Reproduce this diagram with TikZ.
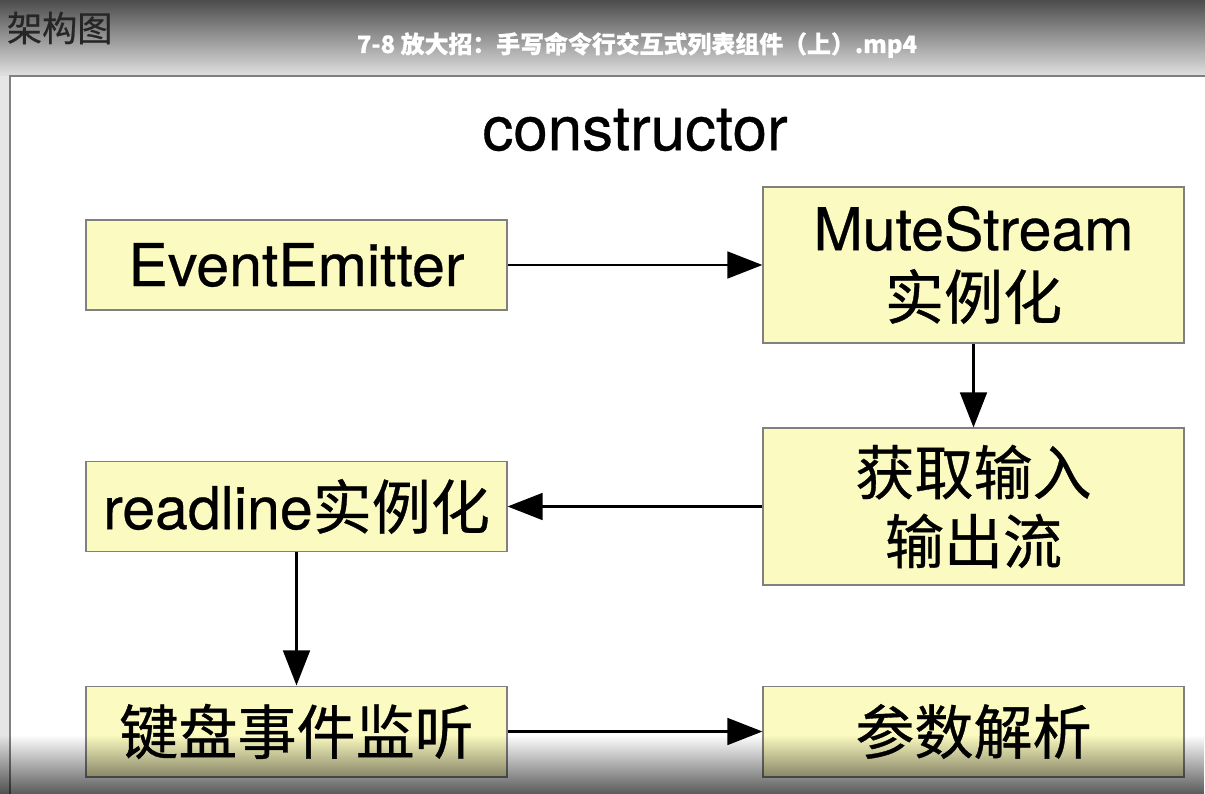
\documentclass[tikz,border=0pt]{standalone}
\usepackage{fontspec}
\setmainfont[FakeBold=0.5]{TeX Gyre Heros}
\newfontfamily\cjk[FakeBold=0.6]{Noto Sans CJK SC}
\usetikzlibrary{arrows.meta,fadings}
\definecolor{boxfill}{RGB}{251,250,192}
\definecolor{boxline}{RGB}{128,128,128}
\tikzfading[name=fadebottom, top color=transparent!100, bottom color=transparent!35]
\begin{document}
\begin{tikzpicture}[x=0.025cm, y=-0.025cm,
		box/.style={draw=boxline, line width=1.4pt, fill=boxfill, minimum width=10.5cm, minimum height=2.25cm, inner sep=0pt, align=center, font=\fontsize{42}{49}\selectfont},
		tall/.style={minimum height=3.9cm},
		arr/.style={line width=2pt, -{Triangle[length=25pt, width=19pt]}}]
		\useasboundingbox (0,0) rectangle (1205,794);
		\fill[white] (0,0) rectangle (1205,794);

		% video frame
		\shade[top color=black!70, bottom color=black!12] (0,0) rectangle (1205,76);
		\fill[black!10] (0,76) rectangle (10,794);
		\draw[black!50, line width=2pt] (10,794) -- (10,76) -- (1205,76);

		\node[anchor=west, font=\cjk\fontsize{25}{25}\selectfont, text=black!85] (hd) at (2,28) {架构图};
		\node[font=\cjk\bfseries\fontsize{17}{17}\selectfont, text=white] (ttl) at (637,45) {7-8 放大招：手写命令行交互式列表组件（上）.mp4};

		\node[font=\fontsize{44}{44}\selectfont] (ctor) at (635,130) {constructor};

		\node[box] (ee) at (296.5,265) {EventEmitter};
		\node[box, tall] (ms) at (973.5,265) {MuteStream\\{\cjk 实例化}};
		\node[box, tall] (io) at (973.5,506.5) {{\cjk 获取输入}\\{\cjk 输出流}};
		\node[box] (rl) at (296.5,506.5) {readline{\cjk 实例化}};
		\node[box] (kb) at (296.5,731.5) {\cjk 键盘事件监听};
		\node[box] (pa) at (973.5,731.5) {\cjk 参数解析};

		\draw[arr] (ee) -- (ms);
		\draw[arr] (ms) -- (io);
		\draw[arr] (io) -- (rl);
		\draw[arr] (rl) -- (kb);
		\draw[arr] (kb) -- (pa);

		\fill[black, path fading=fadebottom] (0,735) rectangle (1205,794);
	\end{tikzpicture}
\end{document}
